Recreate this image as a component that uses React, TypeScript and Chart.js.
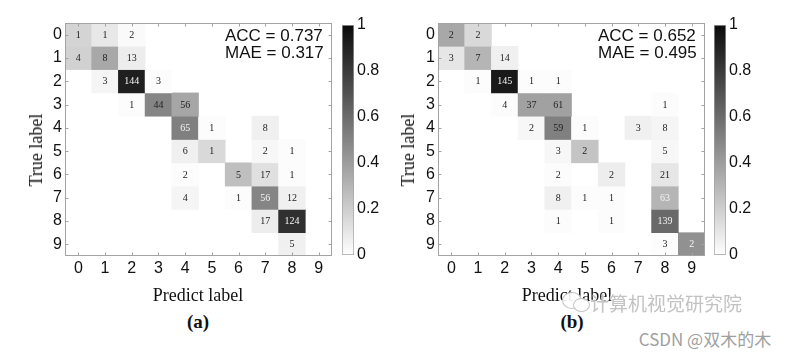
import React, { useEffect, useRef } from 'react';
import { Chart, registerables } from 'chart.js';
Chart.register(...registerables);

// ---------- data ----------
const classLabels = ['0', '1', '2', '3', '4', '5', '6', '7', '8', '9'];
const classValues = [0, 1, 2, 3, 4, 5, 6, 7, 8, 9];
const colorbarTicks = [0, 0.2, 0.4, 0.6, 0.8, 1];

// (a) counts [true][predicted], 0 = empty cell
const countsA = [
  [1, 1, 2, 0, 0, 0, 0, 0, 0, 0],
  [4, 8, 13, 0, 0, 0, 0, 0, 0, 0],
  [0, 3, 144, 3, 0, 0, 0, 0, 0, 0],
  [0, 0, 1, 44, 56, 0, 0, 0, 0, 0],
  [0, 0, 0, 0, 65, 1, 0, 8, 0, 0],
  [0, 0, 0, 0, 6, 1, 0, 2, 1, 0],
  [0, 0, 0, 0, 2, 0, 5, 17, 1, 0],
  [0, 0, 0, 0, 4, 0, 1, 56, 12, 0],
  [0, 0, 0, 0, 0, 0, 0, 17, 124, 0],
  [0, 0, 0, 0, 0, 0, 0, 0, 5, 0],
];
// (a) colour level of each cell (0 = white, 1 = black)
const shadeA = [
  [0.17, 0.09, 0.02, 0, 0, 0, 0, 0, 0, 0],
  [0.18, 0.34, 0.07, 0, 0, 0, 0, 0, 0, 0],
  [0, 0.04, 0.88, 0.01, 0, 0, 0, 0, 0, 0],
  [0, 0, 0.01, 0.48, 0.35, 0, 0, 0, 0, 0],
  [0, 0, 0, 0, 0.5, 0.01, 0, 0.06, 0, 0],
  [0, 0, 0, 0, 0.06, 0.15, 0, 0.03, 0.01, 0],
  [0, 0, 0, 0, 0.01, 0, 0.25, 0.12, 0.01, 0],
  [0, 0, 0, 0, 0.04, 0, 0.01, 0.48, 0.06, 0],
  [0, 0, 0, 0, 0, 0, 0, 0.07, 0.81, 0],
  [0, 0, 0, 0, 0, 0, 0, 0, 0.06, 0],
];
const lightTextA = [[2, 2], [4, 4], [7, 7], [8, 8]];
const accA = 0.737;
const maeA = 0.317;

// (b)
const countsB = [
  [2, 2, 0, 0, 0, 0, 0, 0, 0, 0],
  [3, 7, 14, 0, 0, 0, 0, 0, 0, 0],
  [0, 1, 145, 1, 1, 0, 0, 0, 0, 0],
  [0, 0, 4, 37, 61, 0, 0, 0, 1, 0],
  [0, 0, 0, 2, 59, 1, 0, 3, 8, 0],
  [0, 0, 0, 0, 3, 2, 0, 0, 5, 0],
  [0, 0, 0, 0, 2, 0, 2, 0, 21, 0],
  [0, 0, 0, 0, 8, 1, 1, 0, 63, 0],
  [0, 0, 0, 0, 1, 0, 1, 0, 139, 0],
  [0, 0, 0, 0, 0, 0, 0, 0, 3, 2],
];
const shadeB = [
  [0.34, 0.15, 0, 0, 0, 0, 0, 0, 0, 0],
  [0.1, 0.29, 0.06, 0, 0, 0, 0, 0, 0, 0],
  [0, 0.01, 0.9, 0.01, 0.01, 0, 0, 0, 0, 0],
  [0, 0, 0.01, 0.37, 0.37, 0, 0, 0, 0.01, 0],
  [0, 0, 0, 0.03, 0.5, 0.01, 0, 0.06, 0.04, 0],
  [0, 0, 0, 0, 0.03, 0.23, 0, 0, 0.03, 0],
  [0, 0, 0, 0, 0.01, 0, 0.07, 0, 0.1, 0],
  [0, 0, 0, 0, 0.06, 0.01, 0.01, 0, 0.29, 0],
  [0, 0, 0, 0, 0.01, 0, 0.01, 0, 0.59, 0],
  [0, 0, 0, 0, 0, 0, 0, 0, 0.01, 0.43],
];
const lightTextB = [[2, 2], [7, 8], [8, 8], [9, 9]];
const accB = 0.652;
const maeB = 0.495;

// ---------- helpers ----------
const SANS = '"Liberation Sans", Arial, sans-serif';
const SERIF = '"Liberation Serif", "Times New Roman", serif';
const FRAME = '#a3a3a3';

function gray(s: number) {
  const v = Math.round(255 * (1 - s));
  return `rgb(${v},${v},${v})`;
}

function matrixConfig(counts: number[][], shades: number[][], lightText: number[][], acc: number, mae: number): any {
  const datasets = counts.map((row, r) => ({
    data: row.map((c) => (c > 0 ? [r - 0.5, r + 0.5] : null)),
    backgroundColor: row.map((_, ci) => gray(shades[r][ci])),
    borderWidth: 0,
    grouped: false,
    barPercentage: 1,
    categoryPercentage: 1,
  }));

  const overlay = {
    id: 'matrixOverlay',
    afterDatasetsDraw(chart: any) {
      const { ctx, chartArea, scales } = chart;
      const xs = scales.x;
      const ys = scales.y;
      ctx.save();
      // numbers
      ctx.font = `10px ${SERIF}`;
      ctx.textAlign = 'center';
      ctx.textBaseline = 'middle';
      counts.forEach((row, r) => {
        row.forEach((c, ci) => {
          if (c <= 0) return;
          const light = lightText.some(([lr, lc]) => lr === r && lc === ci);
          ctx.fillStyle = light ? '#f4f4f4' : '#222';
          ctx.fillText(String(c), xs.getPixelForValue(ci), ys.getPixelForValue(r) + 0.5);
        });
      });
      // frame
      ctx.strokeStyle = FRAME;
      ctx.lineWidth = 1;
      const L = Math.round(chartArea.left) + 0.5;
      const R = Math.round(chartArea.right) - 0.5;
      const T = Math.round(chartArea.top) + 0.5;
      const B = Math.round(chartArea.bottom) - 0.5;
      ctx.strokeRect(L, T, R - L, B - T);
      // inward ticks
      ctx.beginPath();
      classValues.forEach((v) => {
        const x = Math.round(xs.getPixelForValue(v)) + 0.5;
        ctx.moveTo(x, B); ctx.lineTo(x, B - 3);
        ctx.moveTo(x, T); ctx.lineTo(x, T + 3);
        const y = Math.round(ys.getPixelForValue(v)) + 0.5;
        ctx.moveTo(L, y); ctx.lineTo(L + 3, y);
        ctx.moveTo(R, y); ctx.lineTo(R - 3, y);
      });
      ctx.stroke();
      // metrics
      ctx.fillStyle = '#111';
      ctx.font = `17px ${SANS}`;
      ctx.textAlign = 'left';
      ctx.textBaseline = 'alphabetic';
      ctx.fillText(`ACC = ${acc.toFixed(3)}`, chartArea.left + 160, chartArea.top + 18);
      ctx.fillText(`MAE = ${mae.toFixed(3)}`, chartArea.left + 160, chartArea.top + 35);
      ctx.restore();
    },
  };

  return {
    type: 'bar',
    data: { labels: classLabels, datasets },
    options: {
      responsive: false,
      animation: false,
      devicePixelRatio: 1,
      layout: { padding: { left: 0, top: 23, right: 8, bottom: 0 } },
      plugins: { legend: { display: false }, tooltip: { enabled: false } },
      scales: {
        x: {
          type: 'category',
          offset: true,
          grid: { display: false, drawTicks: false },
          border: { display: false },
          ticks: { font: { family: SANS, size: 16 }, color: '#111', padding: 3, maxRotation: 0, autoSkip: false },
          afterFit(s: any) { s.height = 34; s.paddingLeft = 0; s.paddingRight = 0; },
        },
        y: {
          type: 'linear',
          min: -0.5,
          max: 9.5,
          reverse: true,
          grid: { display: false, drawTicks: false },
          border: { display: false },
          afterBuildTicks(s: any) { s.ticks = classValues.map((v) => ({ value: v })); },
          ticks: { font: { family: SANS, size: 16 }, color: '#111', padding: 3, callback: (v: any) => String(v) },
          afterFit(s: any) { s.width = 65; s.paddingTop = 0; s.paddingBottom = 0; },
        },
      },
    },
    plugins: [overlay],
  };
}

function colorbarConfig(): any {
  return {
    type: 'bar',
    data: {
      labels: [''],
      datasets: [{
        data: [[0, 1]],
        backgroundColor: (c: any) => {
          const area = c.chart.chartArea;
          if (!area) return '#888';
          const g = c.chart.ctx.createLinearGradient(0, area.bottom, 0, area.top);
          g.addColorStop(0, '#ffffff');
          g.addColorStop(1, '#0a0a0a');
          return g;
        },
        borderColor: FRAME,
        borderWidth: 1,
        borderSkipped: false,
        barPercentage: 1,
        categoryPercentage: 1,
      }],
    },
    options: {
      responsive: false,
      animation: false,
      devicePixelRatio: 1,
      layout: { padding: { left: 12, top: 25, right: 0, bottom: 35 } },
      plugins: { legend: { display: false }, tooltip: { enabled: false } },
      scales: {
        x: { display: false },
        y: {
          position: 'right',
          min: 0,
          max: 1,
          grid: { display: false, drawTicks: false },
          border: { display: false },
          afterBuildTicks(s: any) { s.ticks = colorbarTicks.map((v) => ({ value: v })); },
          ticks: { font: { family: SANS, size: 16 }, color: '#111', padding: 3, callback: (v: any) => String(v) },
          afterFit(s: any) { s.width = 36; s.paddingTop = 0; s.paddingBottom = 0; },
        },
      },
    },
  };
}

function ChartCanvas({ make, left, top, width, height }: any) {
  const ref = useRef<HTMLCanvasElement>(null);
  useEffect(() => {
    const chart = new Chart(ref.current as HTMLCanvasElement, make());
    return () => chart.destroy();
  }, []);
  return (
    <canvas
      ref={ref}
      width={width}
      height={height}
      style={{ position: 'absolute', left, top, width, height }}
    />
  );
}

function Txt({ x, y, children, style }: any) {
  return (
    <div
      style={{
        position: 'absolute',
        left: x,
        top: y,
        transform: 'translate(-50%, -50%)',
        whiteSpace: 'nowrap',
        lineHeight: 1,
        ...style,
      }}
    >
      {children}
    </div>
  );
}

export default function App() {
  useEffect(() => {
    document.body.style.margin = '0';
  }, []);
  const serif = { fontFamily: SERIF, fontSize: 18, color: '#111' };
  return (
    <div style={{ position: 'relative', width: 788, height: 357, background: '#fff', overflow: 'hidden' }}>
      <ChartCanvas make={() => matrixConfig(countsA, shadeA, lightTextA, accA, maeA)} left={0} top={0} width={340} height={290} />
      <ChartCanvas make={colorbarConfig} left={330} top={0} width={60} height={290} />
      <ChartCanvas make={() => matrixConfig(countsB, shadeB, lightTextB, accB, maeB)} left={372.5} top={0} width={340} height={290} />
      <ChartCanvas make={colorbarConfig} left={702} top={0} width={60} height={290} />

      <Txt x={36} y={150} style={{ ...serif, transform: 'translate(-50%, -50%) rotate(-90deg)' }}>True label</Txt>
      <Txt x={408} y={150} style={{ ...serif, transform: 'translate(-50%, -50%) rotate(-90deg)' }}>True label</Txt>
      <Txt x={198} y={295} style={serif}>Predict label</Txt>
      <Txt x={567} y={295} style={serif}>Predict label</Txt>
      <Txt x={198} y={321} style={{ ...serif, fontSize: 19, fontWeight: 'bold' }}>(a)</Txt>
      <Txt x={572} y={321} style={{ ...serif, fontSize: 19, fontWeight: 'bold' }}>(b)</Txt>

      {/* watermark icon */}
      <div style={{ position: 'absolute', left: 562, top: 292, width: 18, height: 15, borderRadius: '50%', border: '1.5px solid #c4c4c4', background: 'rgba(255,255,255,0.9)' }} />
      <div style={{ position: 'absolute', left: 573, top: 298, width: 15, height: 12, borderRadius: '50%', border: '1.5px solid #c4c4c4', background: 'rgba(255,255,255,0.9)' }} />
      <Txt x={666} y={302} style={{ fontFamily: '"Noto Sans CJK SC", sans-serif', fontSize: 19, color: '#c2c2c2', textShadow: '0 0 2px #fff, 0 0 2px #fff' }}>计算机视觉研究院</Txt>
      <Txt x={705} y={338} style={{ fontFamily: '"Noto Sans CJK SC", sans-serif', fontSize: 17, color: '#a0a0a0' }}>CSDN @双木的木</Txt>
    </div>
  );
}
